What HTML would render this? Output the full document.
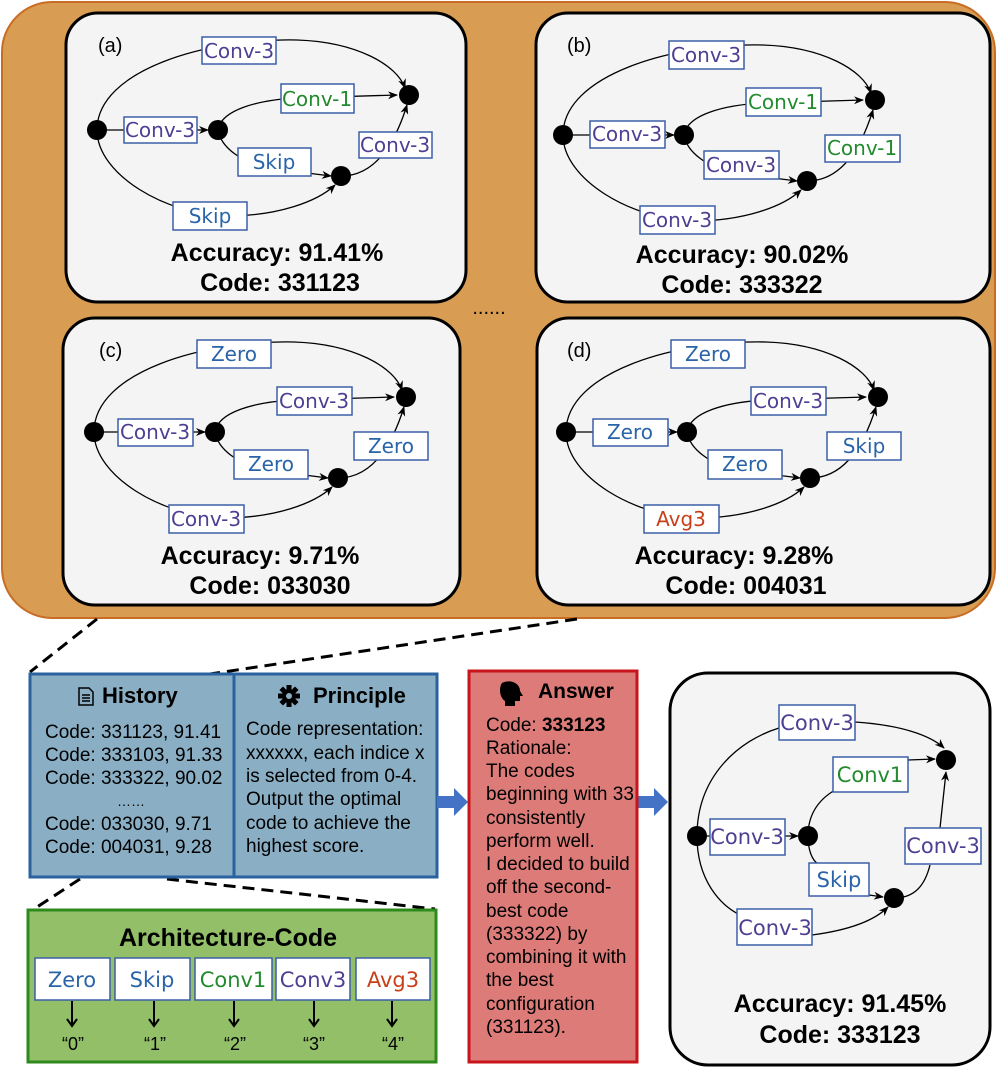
<!DOCTYPE html>
<html><head><meta charset="utf-8"><style>
body{margin:0;background:#fff}
svg{display:block;font-family:"Liberation Sans",sans-serif}
.lb{fill:#fff;stroke:#3b5fa8;stroke-width:1.5}
.t{font-size:20px;text-anchor:middle;dominant-baseline:central;font-family:"DejaVu Sans","Liberation Sans",sans-serif}
.e{fill:none;stroke:#000;stroke-width:1.3}
.acc{font-size:25px;font-weight:bold;text-anchor:middle}
.txt{font-size:19px}
</style></head><body>
<svg width="997" height="1073" viewBox="0 0 997 1073" xmlns="http://www.w3.org/2000/svg">
<defs>
<marker id="ar" markerWidth="10" markerHeight="8" refX="9" refY="4" orient="auto" markerUnits="userSpaceOnUse"><path d="M0,0 L10,4 L0,8 L3,4z" fill="#000"/></marker>
<g id="edges">
<path class="e" d="M0,0 C0,-60 110,-92 200,-90 C260,-88 300,-65 308,-42" marker-end="url(#ar)"/>
<path class="e" d="M0,0 L111,0" marker-end="url(#ar)"/>
<path class="e" d="M121,0 C124,-20 160,-30 200,-32 L300,-35" marker-end="url(#ar)"/>
<path class="e" d="M121,0 C124,18 145,32 170,38 L234,46" marker-end="url(#ar)"/>
<path class="e" d="M244,46 C275,46 296,20 310,-25" marker-end="url(#ar)"/>
<path class="e" d="M0,0 C0,45 70,85 130,86 C180,86 220,72 238,55" marker-end="url(#ar)"/>
<circle cx="0" cy="0" r="10"/><circle cx="121" cy="0" r="10"/><circle cx="244" cy="46" r="10"/><circle cx="312" cy="-35" r="10"/>
</g>
</defs>
<rect x="2" y="2" width="993" height="616" rx="50" fill="#d89c52" stroke="#c96d25" stroke-width="2"/>
<rect x="66" y="13" width="400" height="289" rx="32" fill="#f4f4f4" stroke="#000" stroke-width="3"/>
<rect x="536" y="13" width="454" height="289" rx="32" fill="#f4f4f4" stroke="#000" stroke-width="3"/>
<rect x="63" y="318" width="397" height="287" rx="32" fill="#f4f4f4" stroke="#000" stroke-width="3"/>
<rect x="537" y="318" width="453" height="287" rx="32" fill="#f4f4f4" stroke="#000" stroke-width="3"/>
<text x="489" y="314" font-size="20" text-anchor="middle">......</text>

<!-- panel a -->
<use href="#edges" x="97" y="130"/>
<text x="98" y="52" font-size="20">(a)</text>
<g class="t">
<rect class="lb" x="202" y="37" width="74" height="27"/><text x="239" y="51" fill="#4e3f92">Conv-3</text>
<rect class="lb" x="281" y="84" width="73" height="29"/><text x="317" y="99" fill="#238a2e">Conv-1</text>
<rect class="lb" x="124" y="117" width="73" height="26"/><text x="160" y="130" fill="#4e3f92">Conv-3</text>
<rect class="lb" x="238" y="148" width="73" height="28"/><text x="274" y="162" fill="#2a64a8">Skip</text>
<rect class="lb" x="359" y="132" width="73" height="26"/><text x="395" y="145" fill="#4e3f92">Conv-3</text>
<rect class="lb" x="173" y="202" width="74" height="28"/><text x="210" y="216" fill="#2a64a8">Skip</text>
</g>
<text class="acc" x="277" y="261">Accuracy: 91.41%</text>
<text class="acc" x="280" y="291">Code: 331123</text>

<!-- panel b -->
<use href="#edges" x="563" y="135"/>
<text x="567" y="52" font-size="20">(b)</text>
<g class="t">
<rect class="lb" x="669" y="41" width="75" height="28"/><text x="706" y="55" fill="#4e3f92">Conv-3</text>
<rect class="lb" x="746" y="88" width="75" height="28"/><text x="783" y="102" fill="#238a2e">Conv-1</text>
<rect class="lb" x="590" y="121" width="75" height="27"/><text x="627" y="134" fill="#4e3f92">Conv-3</text>
<rect class="lb" x="704" y="151" width="75" height="28"/><text x="741" y="165" fill="#4e3f92">Conv-3</text>
<rect class="lb" x="825" y="135" width="75" height="27"/><text x="862" y="148" fill="#238a2e">Conv-1</text>
<rect class="lb" x="640" y="206" width="75" height="28"/><text x="677" y="220" fill="#4e3f92">Conv-3</text>
</g>
<text class="acc" x="742" y="263">Accuracy: 90.02%</text>
<text class="acc" x="742" y="293">Code: 333322</text>

<!-- panel c -->
<use href="#edges" x="94" y="432"/>
<text x="99" y="357" font-size="20">(c)</text>
<g class="t">
<rect class="lb" x="197" y="340" width="74" height="28"/><text x="234" y="354" fill="#2a64a8">Zero</text>
<rect class="lb" x="277" y="387" width="75" height="28"/><text x="314" y="401" fill="#4e3f92">Conv-3</text>
<rect class="lb" x="118" y="419" width="75" height="27"/><text x="155" y="432" fill="#4e3f92">Conv-3</text>
<rect class="lb" x="234" y="450" width="74" height="29"/><text x="271" y="464" fill="#2a64a8">Zero</text>
<rect class="lb" x="354" y="432" width="74" height="28"/><text x="391" y="446" fill="#2a64a8">Zero</text>
<rect class="lb" x="169" y="505" width="75" height="28"/><text x="206" y="519" fill="#4e3f92">Conv-3</text>
</g>
<text class="acc" x="260" y="564">Accuracy: 9.71%</text>
<text class="acc" x="270" y="594">Code: 033030</text>

<!-- panel d -->
<use href="#edges" x="566" y="432"/>
<text x="567" y="357" font-size="20">(d)</text>
<g class="t">
<rect class="lb" x="671" y="340" width="74" height="28"/><text x="708" y="354" fill="#2a64a8">Zero</text>
<rect class="lb" x="751" y="387" width="75" height="28"/><text x="788" y="401" fill="#4e3f92">Conv-3</text>
<rect class="lb" x="593" y="419" width="75" height="27"/><text x="630" y="432" fill="#2a64a8">Zero</text>
<rect class="lb" x="708" y="450" width="74" height="29"/><text x="745" y="464" fill="#2a64a8">Zero</text>
<rect class="lb" x="827" y="432" width="74" height="28"/><text x="864" y="446" fill="#2a64a8">Skip</text>
<rect class="lb" x="644" y="505" width="75" height="28"/><text x="681" y="519" fill="#c8401a">Avg3</text>
</g>
<text class="acc" x="734" y="564">Accuracy: 9.28%</text>
<text class="acc" x="746" y="594">Code: 004031</text>

<g stroke="#000" stroke-width="3" stroke-dasharray="12,7" fill="none">
<line x1="97" y1="619" x2="30" y2="672"/>
<line x1="577" y1="619" x2="210" y2="674"/>
<line x1="80" y1="879" x2="34" y2="909"/>
<line x1="167" y1="879" x2="435" y2="909"/>
</g>

<rect x="30" y="674" width="204" height="203" fill="#8aafc4" stroke="#2a62a0" stroke-width="3"/>
<rect x="234" y="674" width="203" height="203" fill="#8aafc4" stroke="#2a62a0" stroke-width="3"/>
<g fill="none" stroke="#000" stroke-width="1.5"><path d="M79,688 h10 l4,4 v13 h-14z"/><path d="M82,695h8M82,698h8M82,701h8"/></g>
<text x="102" y="703" font-size="22" font-weight="bold">History</text>
<g transform="translate(289,696)"><circle r="7" fill="#000"/><g fill="#000"><rect x="-2.5" y="-11" width="5" height="22"/><rect x="-11" y="-2.5" width="22" height="5"/><rect x="-2.5" y="-11" width="5" height="22" transform="rotate(45)"/><rect x="-2.5" y="-11" width="5" height="22" transform="rotate(-45)"/></g><circle r="3" fill="#8aafc4"/></g>
<text x="313" y="703" font-size="22" font-weight="bold">Principle</text>
<g class="txt">
<text x="45" y="738">Code: 331123, 91.41</text>
<text x="45" y="761">Code: 333103, 91.33</text>
<text x="45" y="784">Code: 333322, 90.02</text>
<text x="117" y="806" font-size="14">……</text>
<text x="45" y="830">Code: 033030, 9.71</text>
<text x="45" y="853">Code: 004031, 9.28</text>
<text x="246" y="735">Code representation:</text>
<text x="246" y="759">xxxxxx, each indice x</text>
<text x="246" y="782">is selected from 0-4.</text>
<text x="246" y="805">Output the optimal</text>
<text x="246" y="829">code to achieve the</text>
<text x="246" y="852">highest score.</text>
</g>
<path d="M437,796 h17 v-8 l14,14 l-14,14 v-8 h-17z" fill="#4472c4"/>
<path d="M637,796 h17 v-8 l14,14 l-14,14 v-8 h-17z" fill="#4472c4"/>

<rect x="469" y="671" width="168" height="391" fill="#dc7b78" stroke="#c8141b" stroke-width="3"/>
<path d="M502,683 c8,-4 18,0 18,8 l3,5 h-3 v5 h-5 v5 h-10 v-5 c-6,-4 -6,-14 -3,-18z" fill="#000"/>
<text x="538" y="698" font-size="21" font-weight="bold">Answer</text>
<g class="txt">
<text x="486" y="731">Code: <tspan font-weight="bold">333123</tspan></text>
<text x="486" y="754">Rationale:</text>
<text x="486" y="777">The codes</text>
<text x="486" y="800">beginning with 33</text>
<text x="486" y="824">consistently</text>
<text x="486" y="847">perform well.</text>
<text x="486" y="870">I decided to build</text>
<text x="486" y="893">off the second-</text>
<text x="486" y="917">best code</text>
<text x="486" y="940">(333322) by</text>
<text x="486" y="963">combining it with</text>
<text x="486" y="986">the best</text>
<text x="486" y="1010">configuration</text>
<text x="486" y="1033">(331123).</text>
</g>

<rect x="670" y="673" width="320" height="392" rx="38" fill="#f4f4f4" stroke="#000" stroke-width="3"/>
<path class="e" d="M697,836 C697,775 740,740 779,728 M855,722 C900,725 930,735 944,748" marker-end="url(#ar)"/>
<path class="e" d="M697,836 L798,836" marker-end="url(#ar)"/>
<path class="e" d="M808,836 C808,815 818,800 835,790 M908,760 L935,759" marker-end="url(#ar)"/>
<path class="e" d="M808,836 C808,850 812,860 818,864 M869,895 L883,897" marker-end="url(#ar)"/>
<path class="e" d="M894,898 C915,898 925,885 930,865 M940,828 L946,772" marker-end="url(#ar)"/>
<path class="e" d="M697,836 C697,880 720,905 740,915 M812,935 C850,930 875,920 888,907" marker-end="url(#ar)"/>
<circle cx="697" cy="836" r="10"/><circle cx="808" cy="836" r="10"/><circle cx="894" cy="898" r="10"/><circle cx="946" cy="760" r="10"/>
<g class="t" style="font-size:21px">
<rect class="lb" x="779" y="705" width="76" height="35"/><text x="817" y="723" fill="#4e3f92">Conv-3</text>
<rect class="lb" x="833" y="757" width="75" height="35"/><text x="870" y="775" fill="#238a2e">Conv1</text>
<rect class="lb" x="710" y="819" width="75" height="36"/><text x="747" y="837" fill="#4e3f92">Conv-3</text>
<rect class="lb" x="905" y="828" width="76" height="36"/><text x="943" y="846" fill="#4e3f92">Conv-3</text>
<rect class="lb" x="809" y="863" width="60" height="33"/><text x="839" y="880" fill="#2a64a8">Skip</text>
<rect class="lb" x="737" y="909" width="75" height="36"/><text x="775" y="928" fill="#4e3f92">Conv-3</text>
</g>
<text class="acc" x="840" y="1012">Accuracy: 91.45%</text>
<text class="acc" x="840" y="1043">Code: 333123</text>

<rect x="28" y="910" width="408" height="152" fill="#93bf68" stroke="#2f8a1d" stroke-width="3"/>
<text x="228" y="946" font-size="25" font-weight="bold" text-anchor="middle">Architecture-Code</text>
<g class="t" style="font-size:21px">
<rect class="lb" x="35" y="958" width="75" height="42"/><text x="72" y="980" fill="#2a64a8">Zero</text>
<rect class="lb" x="115" y="958" width="75" height="42"/><text x="152" y="980" fill="#2a64a8">Skip</text>
<rect class="lb" x="195" y="958" width="77" height="42"/><text x="233" y="980" fill="#238a2e">Conv1</text>
<rect class="lb" x="276" y="958" width="74" height="42"/><text x="313" y="980" fill="#4e3f92">Conv3</text>
<rect class="lb" x="356" y="958" width="74" height="42"/><text x="393" y="980" fill="#c8401a">Avg3</text>
</g>
<g stroke="#000" stroke-width="2" fill="none">
<path d="M72,1001 v24 M67,1019 l5,7 l5,-7"/>
<path d="M154,1001 v24 M149,1019 l5,7 l5,-7"/>
<path d="M234,1001 v24 M229,1019 l5,7 l5,-7"/>
<path d="M314,1001 v24 M309,1019 l5,7 l5,-7"/>
<path d="M392,1001 v24 M387,1019 l5,7 l5,-7"/>
</g>
<g font-size="18" text-anchor="middle">
<text x="73" y="1050">“0”</text><text x="155" y="1050">“1”</text><text x="235" y="1050">“2”</text><text x="314" y="1050">“3”</text><text x="393" y="1050">“4”</text>
</g>
</svg>
</body></html>
